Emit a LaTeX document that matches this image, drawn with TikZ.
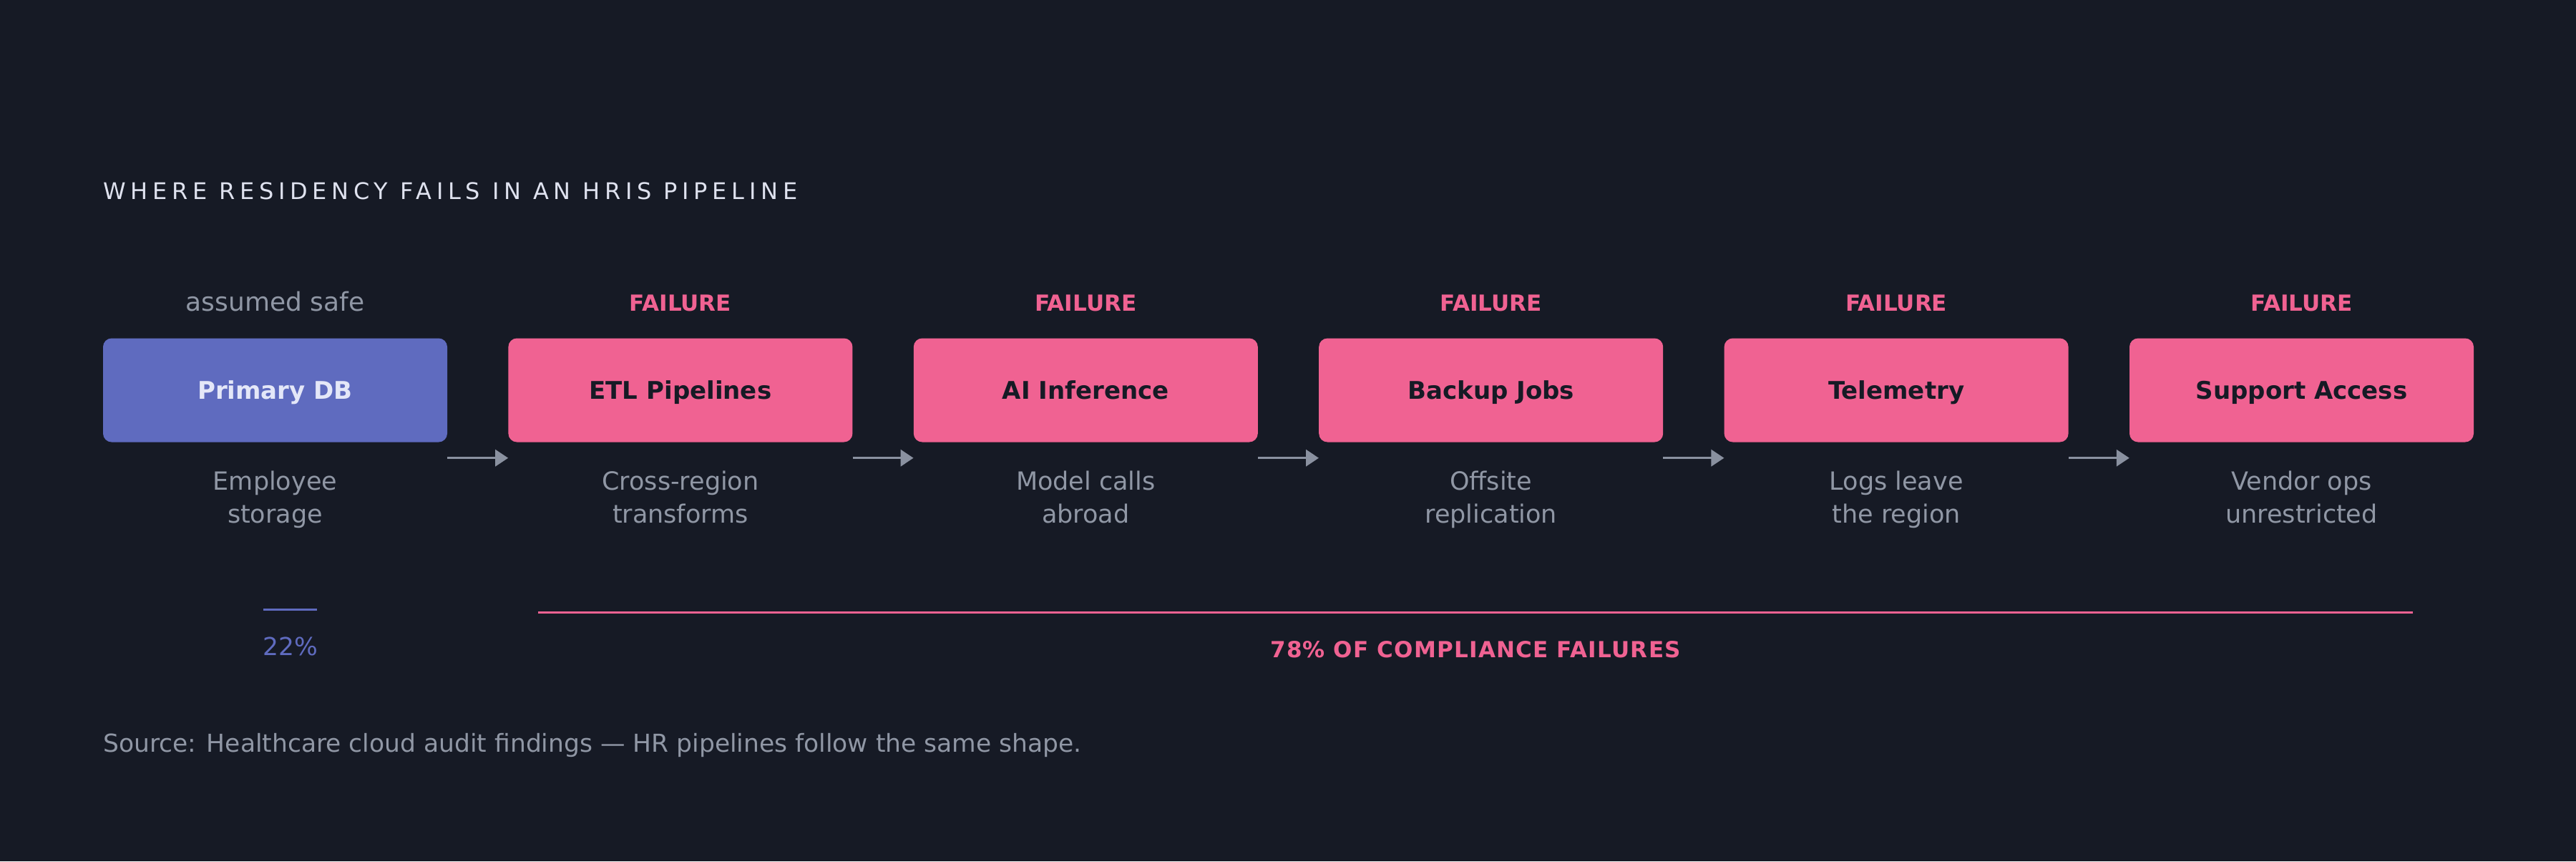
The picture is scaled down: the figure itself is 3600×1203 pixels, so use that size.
\documentclass[tikz,border=0pt]{standalone}
\usepackage{fontspec}
\setmainfont{DejaVu Sans}
\usetikzlibrary{calc,arrows.meta}
\definecolor{bgc}{HTML}{161A25}
\definecolor{pinkc}{HTML}{F06292}
\definecolor{bluec}{HTML}{5F6BBF}
\definecolor{greyc}{HTML}{9097A5}
\definecolor{arrowc}{HTML}{8A91A0}
\definecolor{titlec}{HTML}{DFE2EF}
\definecolor{darkc}{HTML}{161A25}
\definecolor{paleblue}{HTML}{E4E7F8}
\tikzset{
  stage/.style={rounded corners=12pt, minimum width=481pt, minimum height=145pt, inner sep=0pt,
    text height=25pt, text depth=0pt,
    font=\fontsize{34}{40}\selectfont\bfseries},
  safestage/.style={stage, fill=bluec, text=paleblue},
  failstage/.style={stage, fill=pinkc, text=darkc},
  toplabel/.style={anchor=base, inner sep=0pt},
  faillabel/.style={toplabel, text=pinkc, font=\fontsize{31}{36}\selectfont\bfseries},
  safelabel/.style={toplabel, text=greyc, font=\fontsize{36}{40}\selectfont},
  desc/.style={anchor=north, align=center, inner sep=0pt, text=greyc, font=\fontsize{35}{46}\selectfont},
  flow/.style={draw=arrowc, line width=3.5pt, -{Triangle[length=18pt,width=23pt]}},
}
\begin{document}
\begin{tikzpicture}[x=1pt,y=-1pt]
\fill[bgc] (0,0) rectangle (3600,1203);
\useasboundingbox (0,0) rectangle (3600,1203);

\node[anchor=base west, inner sep=0pt, text=titlec,
  font=\fontsize{32}{36}\selectfont\addfontfeatures{LetterSpace=21}] (title) at (144,278)
  {WHERE RESIDENCY FAILS IN AN HRIS PIPELINE};

\node[safestage]  (s0) at (384.5,545) {Primary DB};
\node[failstage]  (s1) at (950.9,545) {ETL Pipelines};
\node[failstage]  (s2) at (1517.3,545) {AI Inference};
\node[failstage]  (s3) at (2083.7,545) {Backup Jobs};
\node[failstage]  (s4) at (2650.1,545) {Telemetry};
\node[failstage]  (s5) at (3216.5,545) {Support Access};

\node[safelabel] (l0) at (384.5,434) {assumed safe};
\node[faillabel] (l1) at (950.9,434) {FAILURE};
\node[faillabel] (l2) at (1517.3,434) {FAILURE};
\node[faillabel] (l3) at (2083.7,434) {FAILURE};
\node[faillabel] (l4) at (2650.1,434) {FAILURE};
\node[faillabel] (l5) at (3216.5,434) {FAILURE};

\node[desc] (d0) at (384.5,651.8) {\strut Employee\\\strut storage};
\node[desc] (d1) at (950.9,651.8) {\strut Cross-region\\\strut transforms};
\node[desc] (d2) at (1517.3,651.8) {\strut Model calls\\\strut abroad};
\node[desc] (d3) at (2083.7,651.8) {\strut Offsite\\\strut replication};
\node[desc] (d4) at (2650.1,651.8) {\strut Logs leave\\\strut the region};
\node[desc] (d5) at (3216.5,651.8) {\strut Vendor ops\\\strut unrestricted};

\foreach \a/\b in {s0/s1,s1/s2,s2/s3,s3/s4,s4/s5}{
  \draw[flow] ($(\a.south east)+(0,22)$) -- ($(\b.south west)+(0,22)$);
}

\coordinate (bl0) at (368,851);
\coordinate (bl1) at (443,851);
\draw[bluec, line width=3pt] (bl0) -- (bl1);
\node[anchor=base, text=bluec, inner sep=0pt, font=\fontsize{34.5}{36}\selectfont] (p22) at (405.5,915) {22\%};

\coordinate (pl0) at (752,855);
\coordinate (pl1) at (3372,855);
\draw[pinkc, line width=3pt] (pl0) -- (pl1);
\node[anchor=base, text=pinkc, inner sep=0pt, font=\fontsize{31}{36}\selectfont\bfseries\addfontfeatures{LetterSpace=4}] (p78) at (2062,918) {78\% OF COMPLIANCE FAILURES};

\node[anchor=base west, inner sep=0pt, text=greyc, font=\fontsize{34.5}{36}\selectfont] (src) at (144,1050)
  {Source: Healthcare cloud audit findings — HR pipelines follow the same shape.};
\end{tikzpicture}
\end{document}
